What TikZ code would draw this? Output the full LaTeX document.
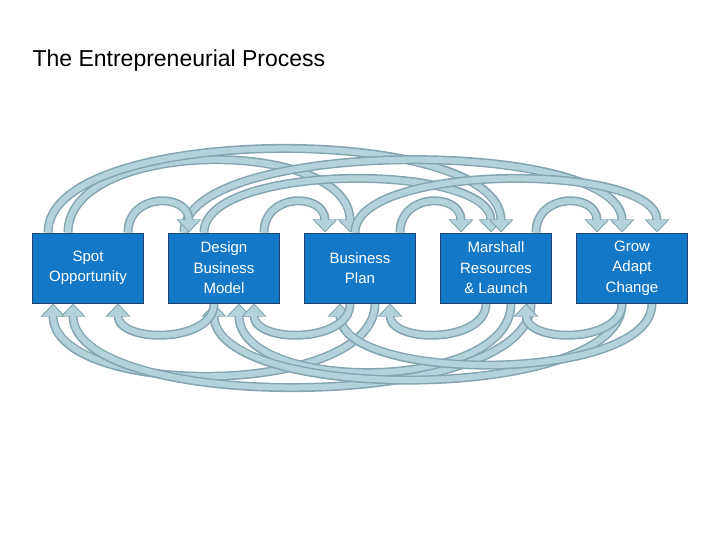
\documentclass[tikz,border=0pt]{standalone}
\usepackage{fontspec}
\setmainfont{Liberation Sans}
\usetikzlibrary{calc,positioning,arrows.meta,backgrounds}
\definecolor{boxblue}{RGB}{20,120,200}
\definecolor{boxedge}{RGB}{30,70,120}
\definecolor{loopfill}{RGB}{180,210,218}
\definecolor{loopedge}{RGB}{130,165,175}
\tikzset{
  stagebox/.style={rectangle,draw=boxedge,line width=1pt,fill=boxblue,text=white,
    minimum width=111pt,minimum height=70pt,align=center,font=\fontsize{15}{20.5}\selectfont},
  loopedgeline/.style={draw=loopedge,line width=9pt,-{Triangle[width=24pt,length=13pt]}},
  loopline/.style={draw=loopfill,line width=6pt,-{Triangle[width=20pt,length=11pt]},shorten >=1.5pt}
}
% top arc: from node, to node, height above boxes, start offset, end offset
\newcommand{\toparc}[5]{%
  \foreach \sty in {loopedgeline,loopline}
    \draw[\sty] ($(#1.north)+(#4,0)$) .. controls ($(#1.north)+(#4,#3)$) and ($(#2.north)+(#5,#3)$) .. ($(#2.north)+(#5,0)$);}
\newcommand{\botarc}[5]{%
  \foreach \sty in {loopedgeline,loopline}
    \draw[\sty] ($(#1.south)+(#4,0)$) .. controls ($(#1.south)+(#4,-#3)$) and ($(#2.south)+(#5,-#3)$) .. ($(#2.south)+(#5,0)$);}
\begin{document}
\begin{tikzpicture}[x=1pt,y=1pt]
  \useasboundingbox (0,0) rectangle (720,-540);
  \node[anchor=west,font=\fontsize{23}{27}\selectfont] (title) at (29,-61) {The Entrepreneurial Process};

  \node[stagebox] (spot) at (88,-268) {Spot\\Opportunity};
  \node[stagebox,right=24pt of spot] (design) {Design\\Business\\Model};
  \node[stagebox,right=24pt of design] (plan) {Business\\Plan};
  \node[stagebox,right=24pt of plan] (marshall) {Marshall\\Resources\\\& Launch};
  \node[stagebox,right=24pt of marshall] (grow) {Grow\\Adapt\\Change};

  \begin{scope}[on background layer]
  % forward loops over the top
  \toparc{spot}{plan}{95}{-20}{-10}
  \toparc{design}{marshall}{70}{-20}{-5}
  \toparc{spot}{marshall}{110}{-40}{5}
  \toparc{design}{grow}{95}{-40}{-10}
  \toparc{plan}{grow}{70}{-5}{25}
  \toparc{spot}{design}{40}{40}{-35}
  \toparc{design}{plan}{40}{40}{-35}
  \toparc{plan}{marshall}{40}{40}{-35}
  \toparc{marshall}{grow}{40}{40}{-35}

  % backward loops underneath
  \botarc{plan}{spot}{95}{15}{-35}
  \botarc{marshall}{design}{90}{15}{15}
  \botarc{marshall}{spot}{110}{35}{-15}
  \botarc{grow}{design}{100}{-10}{-10}
  \botarc{grow}{plan}{80}{20}{-20}
  \botarc{design}{spot}{40}{-10}{30}
  \botarc{plan}{design}{40}{-10}{30}
  \botarc{marshall}{plan}{40}{-10}{30}
  \botarc{grow}{marshall}{40}{-10}{30}
  \end{scope}
\end{tikzpicture}
\end{document}
